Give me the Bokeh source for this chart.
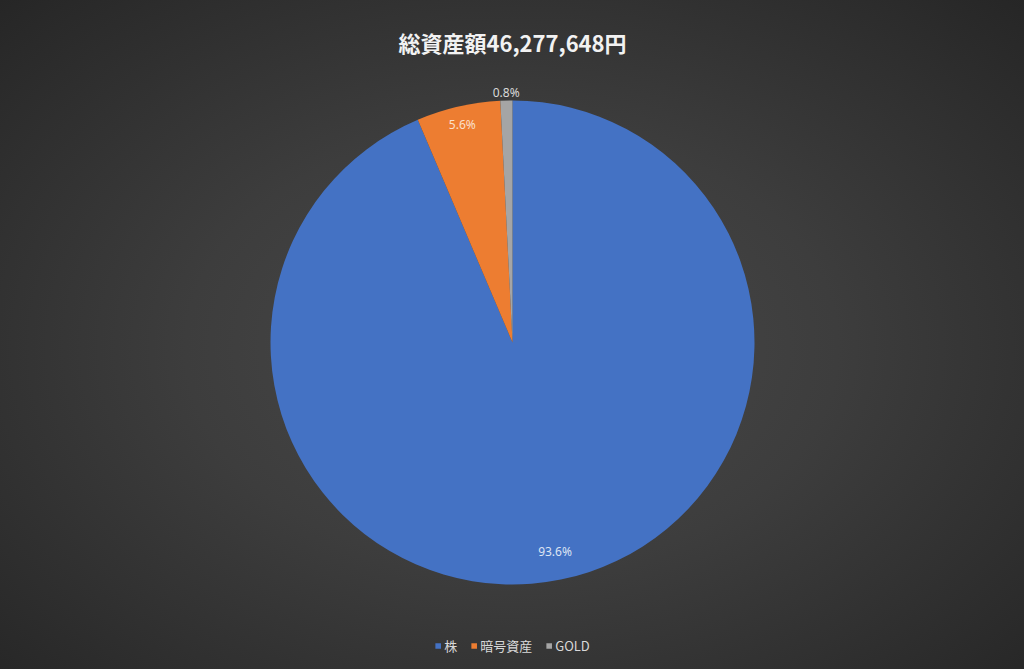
import math
from bokeh.plotting import figure
from bokeh.models import ColumnDataSource, Legend, LegendItem, InlineStyleSheet, Range1d
from bokeh.core.properties import value
from bokeh.embed import file_html
from bokeh.resources import INLINE

# ---- data ----
title_text = "総資産額46,277,648円"
categories = ["株", "暗号資産", "GOLD"]
shares = [93.6, 5.6, 0.8]
labels = ["93.6%", "5.6%", "0.8%"]
colors = ["#4472C4", "#ED7D31", "#A5A5A5"]
label_radius_factor = [0.88, 0.925, 1.035]
label_colors = ["#dde4f3", "#fbe0cc", "#d9d9d9"]

W, H = 1024, 669
cx, cy, R = 512.0, H - 342.0, 242.0

total = sum(shares)
starts, ends, lx, ly = [], [], [], []
cum = 0.0
for s, f in zip(shares, label_radius_factor):
    a0 = math.pi / 2 - 2 * math.pi * (cum + s) / total
    a1 = math.pi / 2 - 2 * math.pi * cum / total
    starts.append(a0)
    ends.append(a1)
    mid = (a0 + a1) / 2
    lx.append(cx + R * f * math.cos(mid))
    ly.append(cy + R * f * math.sin(mid))
    cum += s

src = ColumnDataSource(dict(cat=categories, start=starts, end=ends, color=colors,
                            lx=lx, ly=ly, lab=labels, lcol=label_colors))

css = InlineStyleSheet(css=":host { background: radial-gradient(ellipse at 50% 52%, #4a4a4a 0%, #3d3d3d 45%, #262626 100%); }")

p = figure(width=W, height=H, output_backend="svg", toolbar_location=None,
           x_range=Range1d(0, W), y_range=Range1d(0, H),
           min_border=0, min_border_left=0, min_border_right=0,
           min_border_top=0, min_border_bottom=0)
p.stylesheets = [css]
p.axis.visible = False
p.grid.visible = False
p.outline_line_color = None
p.background_fill_alpha = 0
p.border_fill_alpha = 0

r = p.wedge(x=cx, y=cy, radius=R, start_angle="start", end_angle="end",
            fill_color="color", line_color=None, source=src)

p.text(x="lx", y="ly", text="lab", source=src, text_color="lcol",
       text_align="center", text_baseline="middle",
       text_font=value("Noto Sans"), text_font_size="12px")

p.text(x=[W / 2], y=[H - 41], text=[title_text], text_color="#f2f2f2",
       text_align="center", text_baseline="middle",
       text_font=value("Noto Sans CJK JP"), text_font_style="bold",
       text_font_size="22px")

items = [LegendItem(label=c, renderers=[r], index=i) for i, c in enumerate(categories)]
legend = Legend(items=items, orientation="horizontal", location="bottom_center",
                background_fill_alpha=0, border_line_color=None,
                label_text_color="#d9d9d9", label_text_font="Noto Sans CJK JP",
                label_text_font_size="13px", glyph_width=7, glyph_height=7,
                label_height=14, label_width=0, label_standoff=3, spacing=13,
                padding=0, margin=14)
p.add_layout(legend)

open("out.html", "w").write(file_html(p, INLINE))
